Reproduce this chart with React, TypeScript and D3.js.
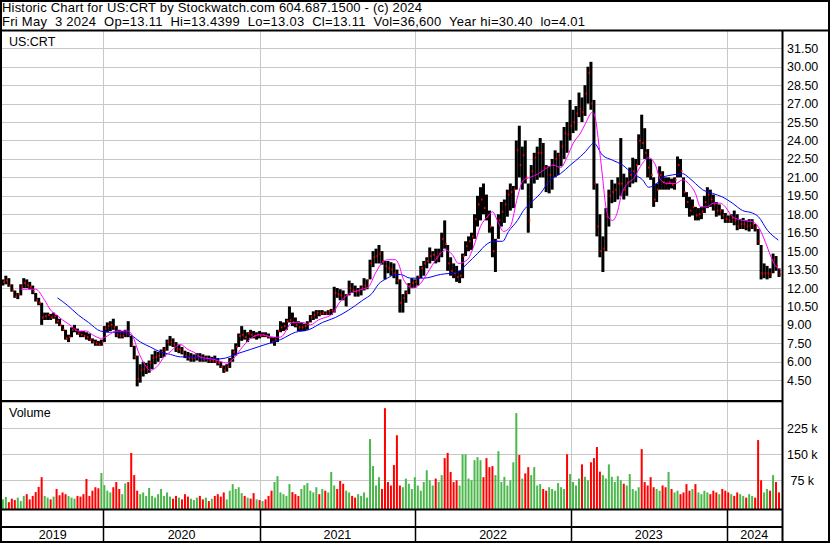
import React, { useRef, useEffect } from 'react';
import * as d3 from 'd3';

const width = 830;
const height = 543;

const headerLine1 = 'Historic Chart for US:CRT by Stockwatch.com 604.687.1500 - (c) 2024';
const headerLine2 = 'Fri May  3 2024  Op=13.11  Hi=13.4399  Lo=13.03  Cl=13.11  Vol=36,600  Year hi=30.40  lo=4.01';
const symbol = 'US:CRT';

// weekly bars, Fridays from 2019-05-10 to 2024-05-03
const firstWeek = new Date(2019, 4, 10);
const lastWeek = new Date(2024, 4, 4);

const weekHigh = [
  12.7, 13.0, 12.8, 12.3, 11.8, 11.6, 12.3, 12.8, 12.7, 12.5,
  12.2, 11.6, 11.2, 10.8, 10.0, 10.0, 9.9, 10.0, 9.8, 9.5,
  9.0, 8.6, 8.2, 8.8, 9.0, 8.7, 8.5, 8.5, 8.4, 8.3,
  7.9, 7.8, 7.7, 7.8, 8.9, 9.2, 9.3, 9.5, 8.9, 8.6,
  8.5, 8.6, 9.3, 8.1, 7.3, 6.5, 5.8, 6.0, 5.9, 6.1,
  6.6, 6.9, 6.8, 7.0, 7.2, 7.8, 8.1, 7.9, 7.6, 7.4,
  7.2, 6.9, 6.8, 6.7, 6.6, 6.7, 6.7, 6.6, 6.5, 6.5,
  6.4, 6.5, 6.3, 6.0, 5.7, 5.8, 6.3, 7.0, 7.5, 8.3,
  8.9, 8.6, 8.4, 8.6, 8.5, 8.4, 8.5, 8.4, 8.4, 8.3,
  8.0, 8.0, 8.6, 9.3, 9.2, 9.5, 10.5, 10.0, 9.6, 9.3,
  9.2, 9.1, 9.3, 9.8, 10.1, 10.2, 10.2, 10.2, 10.1, 10.2,
  10.3, 12.1, 12.0, 11.9, 11.8, 11.5, 12.6, 12.4, 12.2, 12.0,
  12.2, 12.8, 12.7, 14.3, 15.0, 15.2, 15.5, 15.0, 14.2, 14.2,
  14.1, 14.0, 13.5, 12.7, 11.5, 11.8, 12.4, 12.8, 12.7, 13.0,
  13.8, 14.2, 14.5, 15.3, 15.0, 15.2, 15.2, 16.5, 17.5, 15.5,
  14.5, 14.0, 13.8, 13.4, 14.8, 15.8, 16.2, 16.5, 18.0, 19.5,
  20.2, 20.5, 19.6, 18.3, 17.0, 16.0, 18.0, 19.0, 19.2, 20.0,
  20.5, 20.3, 24.0, 25.2, 23.5, 24.0, 20.5, 22.0, 23.0, 23.5,
  24.2, 23.8, 22.0, 21.9, 22.5, 23.2, 23.0, 24.0, 25.1, 25.5,
  27.3, 26.5, 26.8, 27.9, 27.5, 28.5, 30.0, 30.4, 27.3, 20.5,
  18.0, 16.2, 18.5, 20.0, 20.8, 20.5, 21.0, 24.2, 21.3, 21.0,
  21.8, 22.6, 22.5, 24.5, 26.1, 25.0, 23.3, 22.5, 21.0, 20.5,
  21.9, 21.5, 21.0, 21.0, 20.9, 21.0, 22.7, 22.5, 21.0, 19.8,
  19.4, 19.2, 18.6, 18.5, 18.6, 19.5, 20.2, 20.0, 19.6, 19.0,
  18.8, 18.4, 18.1, 17.9, 18.0, 18.3, 18.0, 17.6, 17.7, 17.5,
  17.6, 17.6, 17.2, 16.8, 15.5, 14.0, 13.8, 13.6, 14.8, 14.6,
  13.6,
];

const weekLow = [
  12.2, 12.3, 12.1, 11.7, 11.2, 11.1, 11.4, 12.0, 12.0, 11.9,
  11.5, 10.9, 10.6, 9.0, 9.4, 9.4, 9.4, 9.5, 9.1, 8.9,
  8.5, 7.8, 7.6, 8.0, 8.4, 8.2, 8.0, 8.0, 7.8, 7.7,
  7.5, 7.3, 7.3, 7.3, 7.6, 8.4, 8.5, 8.6, 8.0, 7.9,
  7.9, 8.0, 8.0, 7.2, 6.2, 4.0, 4.3, 4.8, 5.0, 5.1,
  5.4, 5.8, 6.0, 6.3, 6.4, 6.9, 7.3, 7.2, 6.8, 6.7,
  6.6, 6.3, 6.1, 6.0, 6.0, 6.1, 6.0, 6.0, 6.0, 5.9,
  5.9, 5.9, 5.7, 5.5, 5.1, 5.2, 5.5, 6.0, 6.5, 7.2,
  7.7, 7.8, 7.6, 7.9, 7.9, 7.8, 7.9, 8.0, 8.0, 7.9,
  7.5, 7.3, 7.6, 8.4, 8.5, 8.6, 9.2, 8.9, 8.8, 8.5,
  8.5, 8.5, 8.6, 9.2, 9.4, 9.5, 9.7, 9.8, 9.8, 9.8,
  9.8, 10.0, 11.2, 11.0, 11.0, 10.5, 11.4, 11.6, 11.3, 11.3,
  11.4, 11.8, 11.9, 12.7, 13.7, 14.0, 14.0, 13.9, 12.7, 13.2,
  13.0, 12.8, 12.3, 10.0, 10.0, 10.8, 11.5, 12.0, 12.0, 12.2,
  12.8, 13.0, 13.6, 14.0, 14.2, 14.0, 14.1, 14.5, 15.2, 13.4,
  13.0, 12.8, 12.5, 12.4, 12.8, 14.6, 15.0, 15.1, 16.0, 17.0,
  17.5, 18.0, 17.5, 16.5, 14.5, 13.3, 16.0, 17.0, 17.3, 17.8,
  18.3, 18.5, 20.0, 21.0, 20.0, 20.5, 16.5, 18.5, 20.5, 20.8,
  21.0, 21.0, 19.8, 19.7, 20.0, 21.0, 21.2, 21.9, 22.5, 23.0,
  24.0, 24.6, 24.8, 25.9, 25.5, 26.0, 27.0, 26.5, 20.0, 16.2,
  14.5, 13.3, 15.0, 17.0, 18.9, 19.0, 19.2, 19.5, 19.2, 19.5,
  20.2, 20.5, 20.6, 22.0, 23.3, 22.5, 21.0, 20.8, 18.6, 19.0,
  20.0, 20.0, 20.0, 20.0, 20.1, 20.0, 21.0, 21.0, 19.4, 18.5,
  17.8, 17.9, 17.5, 17.5, 17.6, 18.1, 18.5, 18.6, 18.3, 17.8,
  17.9, 17.6, 17.3, 17.3, 17.3, 17.1, 16.7, 16.8, 16.8, 16.7,
  16.6, 16.8, 16.6, 15.5, 12.7, 12.8, 12.7, 12.8, 13.2, 13.4,
  12.9,
];

const weekClose = [
  12.5, 12.6, 12.2, 11.8, 11.3, 11.5, 12.1, 12.4, 12.2, 12.1,
  11.7, 11.0, 10.8, 9.6, 9.7, 9.8, 9.6, 9.7, 9.3, 9.0,
  8.6, 7.9, 8.0, 8.6, 8.6, 8.3, 8.2, 8.1, 8.0, 7.8,
  7.6, 7.5, 7.4, 7.6, 8.7, 8.9, 9.0, 8.8, 8.2, 8.1,
  8.1, 8.3, 8.2, 7.4, 6.4, 4.6, 5.3, 5.4, 5.6, 5.9,
  6.3, 6.4, 6.5, 6.8, 7.0, 7.6, 7.6, 7.4, 7.0, 7.0,
  6.8, 6.5, 6.3, 6.3, 6.3, 6.4, 6.3, 6.2, 6.3, 6.1,
  6.1, 6.0, 5.9, 5.6, 5.3, 5.6, 6.1, 6.8, 7.2, 8.1,
  8.2, 8.0, 8.3, 8.2, 8.1, 8.2, 8.1, 8.2, 8.1, 8.0,
  7.6, 7.8, 8.5, 8.8, 8.9, 9.3, 9.4, 9.2, 9.0, 8.8,
  8.8, 8.9, 9.2, 9.6, 9.8, 10.0, 9.9, 10.0, 9.9, 10.1,
  10.2, 11.6, 11.5, 11.4, 11.2, 11.4, 12.0, 11.8, 11.7, 11.8,
  12.0, 12.2, 12.6, 14.0, 14.5, 14.6, 14.8, 14.2, 13.8, 13.6,
  13.5, 13.2, 12.6, 10.8, 11.2, 11.6, 12.2, 12.4, 12.5, 12.9,
  13.6, 14.0, 14.2, 14.6, 14.7, 14.5, 14.8, 16.0, 15.6, 14.0,
  13.4, 13.2, 12.9, 13.0, 14.6, 15.4, 15.8, 16.2, 17.6, 18.8,
  19.2, 18.5, 17.8, 17.0, 15.0, 15.8, 17.5, 18.2, 18.8, 19.6,
  19.8, 20.0, 23.2, 22.0, 22.8, 21.0, 17.5, 21.5, 22.6, 23.0,
  23.0, 21.8, 20.5, 21.2, 22.0, 22.5, 22.8, 23.5, 24.6, 24.5,
  25.2, 25.5, 26.2, 26.6, 26.3, 27.8, 29.5, 27.0, 20.5, 17.0,
  15.0, 15.2, 17.8, 19.5, 19.8, 20.0, 20.5, 20.5, 20.0, 20.6,
  21.2, 21.5, 22.0, 24.0, 23.8, 23.0, 21.8, 21.2, 19.2, 20.0,
  21.2, 20.6, 20.5, 20.6, 20.4, 20.8, 22.0, 21.5, 19.8, 19.0,
  18.3, 18.6, 17.9, 18.0, 18.2, 19.0, 19.6, 19.2, 18.8, 18.3,
  18.3, 17.9, 17.6, 17.5, 17.7, 17.5, 17.0, 17.2, 17.2, 17.0,
  17.1, 17.2, 16.9, 15.8, 13.2, 13.2, 13.2, 13.1, 14.3, 13.8,
  13.11,
];

// thousands of shares
const weekVolume = [
  20, 27, 12, 22, 18, 25, 15, 30, 35, 20,
  30, 41, 56, 84, 30, 25, 20, 28, 50, 32,
  40, 35, 30, 25, 22, 30, 28, 35, 79, 30,
  45, 55, 52, 96, 61, 45, 40, 55, 70, 50,
  35, 66, 70, 154, 90, 45, 35, 40, 30, 53,
  30, 25, 35, 50, 30, 40, 28, 22, 30, 25,
  20, 35, 28, 22, 18, 25, 30, 20, 25, 15,
  22, 30, 35, 28, 40, 20, 45, 64, 50, 55,
  38, 30, 25, 22, 38, 20, 18, 15, 20, 30,
  45, 70, 87, 40, 35, 30, 64, 41, 35, 30,
  50, 61, 67, 45, 40, 55, 35, 50, 45, 40,
  99, 60, 50, 73, 65, 45, 40, 30, 25, 35,
  30, 40, 25, 194, 116, 60, 84, 50, 283, 70,
  60, 119, 205, 60, 55, 80, 65, 50, 84, 60,
  45, 70, 104, 75, 60, 80, 70, 90, 139, 154,
  99, 70, 75, 60, 150, 150, 80, 75, 133, 142,
  133, 84, 139, 113, 116, 90, 159, 70, 85, 60,
  75, 127, 269, 148, 80, 95, 113, 90, 113, 60,
  64, 50, 45, 55, 50, 45, 67, 55, 50, 150,
  93, 70, 60, 80, 121, 85, 75, 127, 139, 171,
  100, 90, 80, 121, 85, 70, 87, 75, 65, 60,
  93, 50, 45, 55, 165, 70, 60, 84, 55, 50,
  45, 60, 55, 99, 50, 40, 45, 35, 40, 64,
  45, 50, 64, 40, 35, 45, 40, 35, 45, 40,
  35, 50, 45, 40, 35, 30, 40, 35, 30, 25,
  35, 30, 25, 191, 75, 40, 50, 45, 90, 70,
  40,
];

// moving averages: [week index, value]
const fastMA: [number, number][] = [
  [6, 11.9], [11, 11.9], [14, 11.0], [16, 10.2], [18, 9.8], [20, 9.4], [23, 8.9], [25, 8.5],
  [28, 8.5], [30, 8.2], [33, 7.9], [35, 8.1], [38, 8.5], [40, 8.5], [42, 8.5], [44, 7.8],
  [45.4, 6.8], [47, 6.0], [49.4, 5.3], [52, 5.7], [54, 6.4], [56, 6.8], [59.5, 7.4], [62, 7.0],
  [64.5, 6.7], [66, 6.4], [70.5, 6.2], [75, 5.9], [77, 6.2], [79.6, 7.0], [83, 7.9], [86, 8.2],
  [91, 8.0], [93, 8.0], [97, 9.2], [100.4, 9.2], [103, 9.0], [105.7, 9.4], [110.4, 9.9],
  [112.4, 10.7], [115.8, 11.5], [119, 11.8], [122.5, 12.1], [124.8, 13.2], [127.2, 14.1],
  [129, 14.3], [131.5, 14.3], [132.5, 14.0], [134.2, 12.7], [137.2, 12.0], [140, 12.4],
  [142.2, 13.2], [145.6, 14.5], [148.3, 15.1], [150.6, 14.7], [152.6, 14.0], [155.6, 14.3],
  [157.6, 15.3], [160, 17.0], [162.3, 17.8], [164, 18.2], [166, 17.3], [167.7, 16.6],
  [170, 17.0], [172.4, 19.4], [174.4, 20.8], [176.7, 21.0], [179.4, 21.3], [182.4, 21.8],
  [184.4, 22.0], [186.8, 21.8], [189.1, 22.7], [191.1, 23.8], [193.5, 24.6], [195.2, 25.4],
  [197.5, 26.3], [198.4, 25.9], [199.5, 24.0], [200.9, 21.0], [202, 18.6], [203, 17.7],
  [204.2, 17.5], [206, 18.3], [207, 19.4], [209.3, 20.5], [211.3, 20.9], [213.6, 21.9],
  [216.3, 22.6], [218.6, 22.0], [220.3, 20.8], [222.7, 20.5], [225.3, 20.5], [227.7, 20.8],
  [229.7, 20.5], [232, 19.7], [233.7, 18.6], [236, 18.6], [238, 18.9], [240.4, 18.9],
  [242, 18.6], [244.4, 17.8], [247.8, 17.5], [251, 17.4], [253, 17.0], [255.5, 15.7],
  [257.2, 14.6], [258.8, 13.8], [260.5, 13.5],
];

const slowMA: [number, number][] = [
  [18.3, 11.2], [21.6, 10.6], [25.3, 9.8], [28.7, 9.2], [32.7, 8.5], [36, 8.4], [39.4, 8.4],
  [42.7, 8.2], [46.1, 7.6], [49.4, 7.2], [52.8, 6.8], [56.1, 6.6], [59.5, 6.4], [62.8, 6.4],
  [66.2, 6.3], [70.5, 6.2], [74.6, 6.3], [77.9, 6.6], [82.9, 7.0], [87.9, 7.4], [93, 7.8],
  [98, 8.4], [102.4, 8.6], [107.1, 9.2], [111.4, 9.6], [115.8, 10.2], [120.5, 11.0],
  [123.8, 11.6], [125.8, 12.3], [128.8, 12.8], [131.5, 13.1], [133.2, 13.1], [136.5, 12.8],
  [140.9, 12.8], [146.6, 13.1], [152.3, 13.3], [155.6, 14.0], [159, 14.8], [162.3, 15.6],
  [164.4, 15.8], [167.4, 15.8], [169.4, 16.6], [172.4, 17.5], [174.4, 18.3], [176.7, 18.9],
  [180.1, 19.7], [183.4, 20.8], [186.8, 21.3], [190.1, 22.0], [193.5, 22.7], [195.2, 23.1],
  [196.9, 23.6], [197.9, 23.8], [200.9, 22.8], [204.2, 22.4], [207.6, 22.0], [210.9, 21.3],
  [214.3, 20.8], [216.3, 20.2], [218.6, 20.4], [221, 21.0], [224.3, 21.2], [227.7, 21.3],
  [229.7, 21.0], [232, 20.5], [234.4, 20.0], [237.7, 19.7], [241.1, 19.4], [244.4, 18.9],
  [247.8, 18.3], [251.1, 18.1], [253.1, 17.8], [256.1, 16.7], [259.8, 15.9],
];

const priceTicks = [31.5, 30, 28.5, 27, 25.5, 24, 22.5, 21, 19.5, 18, 16.5, 15, 13.5, 12, 10.5, 9, 7.5, 6, 4.5];
const volumeTicks = [225, 150, 75];
const volumeTickLabels = ['225 k', '150 k', ' 75 k'];
const yearLabels = ['2019', '2020', '2021', '2022', '2023', '2024'];

const FONT = '"Liberation Sans", Arial, sans-serif';

const StockChart: React.FC = () => {
  const ref = useRef<SVGSVGElement | null>(null);

  useEffect(() => {
    if (!ref.current) return;
    const svg = d3.select(ref.current);
    svg.selectAll('*').remove();
    svg.attr('viewBox', `0 0 ${width} ${height}`);

    // layout
    const left = 2;
    const right = 782;
    const priceTop = 31;
    const priceBottom = 400;
    const volTop = 402;
    const volBottom = 509;
    const stripBottom = 527;
    const frameBottom = 541;

    const x = d3.scaleTime()
      .domain([new Date(2019, 4, 8), new Date(2024, 4, 10)])
      .range([left, right]);

    const weeks = d3.timeFriday.range(firstWeek, lastWeek);
    const weekX = d3.scaleLinear()
      .domain([0, weeks.length - 1])
      .range([x(weeks[0]), x(weeks[weeks.length - 1])]);

    const yPrice = d3.scaleLinear().domain([4.5, 31.5]).range([380.2, 48.3]);
    const yVol = d3.scaleLinear().domain([0, 225]).range([506.3, 428.3]);

    const yearStarts = yearLabels.slice(1).map(y => new Date(+y, 0, 1));
    const yearEdges = [left, ...yearStarts.map(d => x(d)), right];

    svg.append('rect').attr('width', width).attr('height', height).attr('fill', '#ffffff');

    // grid
    const grid = svg.append('g').attr('stroke', '#c8c8c8').attr('stroke-width', 1);
    priceTicks.forEach(t => {
      const yy = Math.round(yPrice(t)) + 0.5;
      grid.append('line').attr('x1', left).attr('x2', right).attr('y1', yy).attr('y2', yy);
    });
    volumeTicks.forEach(t => {
      const yy = Math.round(yVol(t)) + 0.5;
      grid.append('line').attr('x1', left).attr('x2', right).attr('y1', yy).attr('y2', yy);
    });
    yearStarts.forEach(d => {
      const xx = Math.round(x(d)) + 0.5;
      grid.append('line').attr('x1', xx).attr('x2', xx).attr('y1', priceTop).attr('y2', priceBottom);
      grid.append('line').attr('x1', xx).attr('x2', xx).attr('y1', volTop).attr('y2', volBottom);
    });

    // volume bars
    const volG = svg.append('g');
    weekVolume.forEach((v, i) => {
      const up = i === 0 ? true : weekClose[i] >= weekClose[i - 1];
      const top = yVol(v);
      volG.append('rect')
        .attr('x', weekX(i) - 1)
        .attr('y', top)
        .attr('width', 2)
        .attr('height', Math.max(1, volBottom - top))
        .attr('fill', up ? '#4cb84c' : '#ff0000');
    });

    // price bars
    const priceG = svg.append('g');
    weekHigh.forEach((h, i) => {
      const yh = yPrice(h);
      const yl = yPrice(weekLow[i]);
      priceG.append('rect')
        .attr('x', weekX(i) - 1.5)
        .attr('y', yh)
        .attr('width', 3)
        .attr('height', Math.max(1, yl - yh))
        .attr('fill', '#000000');
    });
    weekClose.forEach((c, i) => {
      priceG.append('rect')
        .attr('x', weekX(i) + 0.5)
        .attr('y', yPrice(c) - 1)
        .attr('width', 1.5)
        .attr('height', 2)
        .attr('fill', '#ff0000');
    });

    // moving averages
    const maLine = d3.line<[number, number]>()
      .x(d => weekX(d[0]))
      .y(d => yPrice(d[1]))
      .curve(d3.curveMonotoneX);

    svg.append('path')
      .datum(slowMA)
      .attr('d', maLine)
      .attr('fill', 'none')
      .attr('stroke', '#0000ff')
      .attr('stroke-width', 1);

    svg.append('path')
      .datum(fastMA)
      .attr('d', maLine)
      .attr('fill', 'none')
      .attr('stroke', '#ff00ff')
      .attr('stroke-width', 1);

    // frames
    const frame = svg.append('g').attr('stroke', '#000000');
    frame.append('rect')
      .attr('x', 1).attr('y', 1).attr('width', width - 2).attr('height', frameBottom)
      .attr('fill', 'none').attr('stroke-width', 2);
    frame.append('line').attr('x1', 0).attr('x2', width).attr('y1', 30.5).attr('y2', 30.5).attr('stroke-width', 2);
    frame.append('line').attr('x1', right + 0.5).attr('x2', right + 0.5).attr('y1', 30).attr('y2', height).attr('stroke-width', 2);
    frame.append('line').attr('x1', 0).attr('x2', right).attr('y1', priceBottom + 0.5).attr('y2', priceBottom + 0.5).attr('stroke-width', 1.2);
    frame.append('line').attr('x1', 0).attr('x2', right).attr('y1', volTop - 0.3).attr('y2', volTop - 0.3).attr('stroke-width', 1.2);
    frame.append('line').attr('x1', 0).attr('x2', right).attr('y1', volBottom + 0.5).attr('y2', volBottom + 0.5).attr('stroke-width', 2);
    frame.append('line').attr('x1', 0).attr('x2', right).attr('y1', stripBottom).attr('y2', stripBottom).attr('stroke-width', 2);
    yearStarts.forEach(d => {
      const xx = Math.round(x(d)) + 0.5;
      frame.append('line').attr('x1', xx).attr('x2', xx).attr('y1', volBottom).attr('y2', frameBottom).attr('stroke-width', 1.5);
    });

    // texts
    const text = svg.append('g').attr('font-family', FONT).attr('fill', '#000000');
    text.append('text').attr('x', 2).attr('y', 12).attr('font-size', 13)
      .attr('textLength', 420).attr('lengthAdjust', 'spacing')
      .style('white-space', 'pre').text(headerLine1);
    text.append('text').attr('x', 2).attr('y', 26).attr('font-size', 13)
      .attr('textLength', 583).attr('lengthAdjust', 'spacing')
      .style('white-space', 'pre').text(headerLine2);
    text.append('text').attr('x', 9).attr('y', 46).attr('font-size', 12.5).text(symbol);
    text.append('text').attr('x', 9).attr('y', 417).attr('font-size', 12.5).text('Volume');

    priceTicks.forEach(t => {
      text.append('text')
        .attr('x', 787)
        .attr('y', yPrice(t))
        .attr('dy', '0.36em')
        .attr('font-size', 12.5)
        .text(d3.format('.2f')(t));
    });
    volumeTicks.forEach((t, i) => {
      text.append('text')
        .attr('x', 787)
        .attr('y', yVol(t))
        .attr('dy', '0.36em')
        .attr('font-size', 12.5)
        .style('white-space', 'pre')
        .text(volumeTickLabels[i]);
    });
    yearLabels.forEach((label, i) => {
      text.append('text')
        .attr('x', (yearEdges[i] + yearEdges[i + 1]) / 2)
        .attr('y', 539)
        .attr('text-anchor', 'middle')
        .attr('font-size', 12.5)
        .text(label);
    });
  }, []);

  return (
    <svg
      ref={ref}
      width={width}
      height={height}
      style={{ position: 'absolute', left: 0, top: 0, display: 'block' }}
      aria-label="Historic chart for US:CRT"
    />
  );
};

export default function App() {
  return <StockChart />;
}
